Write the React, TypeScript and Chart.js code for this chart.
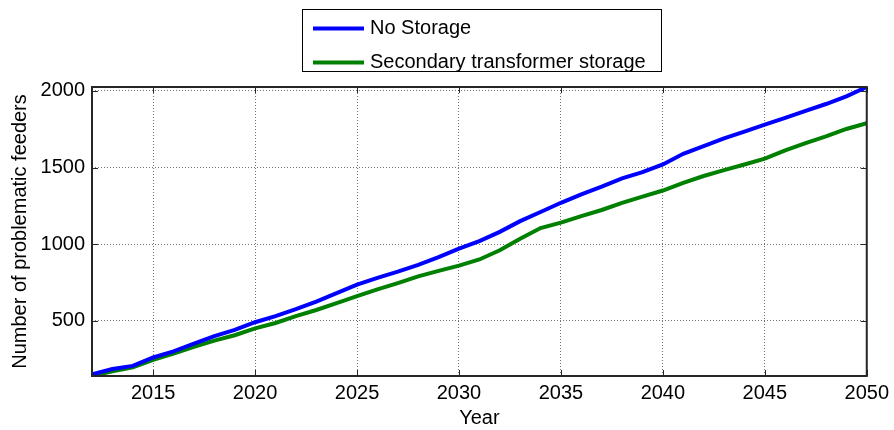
import React, { useEffect, useRef } from "react";
import { Chart, registerables } from "chart.js";

Chart.register(...registerables);

const years = [
  2012, 2013, 2014, 2015, 2016, 2017, 2018, 2019, 2020, 2021,
  2022, 2023, 2024, 2025, 2026, 2027, 2028, 2029, 2030, 2031,
  2032, 2033, 2034, 2035, 2036, 2037, 2038, 2039, 2040, 2041,
  2042, 2043, 2044, 2045, 2046, 2047, 2048, 2049, 2050,
];

const noStorage = [
  150, 185, 205, 260, 300, 350, 400, 440, 490, 530,
  575, 625, 680, 735, 780, 820, 865, 915, 970, 1020,
  1080, 1150, 1210, 1270, 1325, 1375, 1430, 1470, 1520, 1590,
  1640, 1690, 1735, 1780, 1825, 1870, 1915, 1965, 2026,
];

const secondaryStorage = [
  139, 170, 195, 245, 285, 330, 370, 405, 450, 485,
  530, 570, 615, 660, 705, 745, 790, 825, 860, 900,
  960, 1035, 1105, 1140, 1183, 1223, 1270, 1310, 1350, 1400,
  1445, 1483, 1520, 1558, 1612, 1660, 1704, 1752, 1790,
];

const seriesLabels = ["No Storage", "Secondary transformer storage"];
const seriesColors = ["#0000ff", "#008000"];

const xTickValues = [2015, 2020, 2025, 2030, 2035, 2040, 2045, 2050];
const yTickValues = [500, 1000, 1500, 2000];

const xMin = 2012;
const xMax = 2050;
const yMin = 139;
const yMax = 2026;

const FONT = "'Liberation Sans', Arial, Helvetica, sans-serif";

const boxPlugin = {
  id: "matlabBox",
  afterDraw(chart: any) {
    const { ctx, chartArea } = chart;
    const { left, right, top, bottom } = chartArea;
    const xs = chart.scales.x;
    const ys = chart.scales.y;
    ctx.save();
    // tick marks inside
    ctx.strokeStyle = "#262626";
    ctx.lineWidth = 1;
    const tl = 6;
    ctx.beginPath();
    for (const v of xTickValues) {
      const px = Math.round(xs.getPixelForValue(v)) + 0.5;
      ctx.moveTo(px, bottom);
      ctx.lineTo(px, bottom - tl);
      ctx.moveTo(px, top);
      ctx.lineTo(px, top + tl);
    }
    for (const v of yTickValues) {
      const py = Math.round(ys.getPixelForValue(v)) + 0.5;
      ctx.moveTo(left, py);
      ctx.lineTo(left + tl, py);
      ctx.moveTo(right, py);
      ctx.lineTo(right - tl, py);
    }
    ctx.stroke();
    // box
    ctx.lineWidth = 2;
    ctx.strokeStyle = "#262626";
    ctx.strokeRect(left, top, right - left, bottom - top);

    // legend
    const lx = 302.5;
    const ly = 9.5;
    const lw = 359;
    const lh = 62;
    ctx.fillStyle = "#ffffff";
    ctx.fillRect(lx, ly, lw, lh);
    ctx.lineWidth = 1;
    ctx.strokeStyle = "#000000";
    ctx.strokeRect(lx, ly, lw, lh);
    const rows = [28.5, 62.5];
    chart.data.datasets.forEach((ds: any, i: number) => {
      const y = rows[i];
      ctx.strokeStyle = ds.borderColor;
      ctx.lineWidth = 4;
      ctx.beginPath();
      ctx.moveTo(313, y);
      ctx.lineTo(364, y);
      ctx.stroke();
      ctx.fillStyle = "#000000";
      ctx.font = `20px ${FONT}`;
      ctx.textBaseline = "middle";
      ctx.textAlign = "left";
      ctx.fillText(ds.label, 370, y);
    });
    ctx.restore();
  },
};

export default function App() {
  const canvasRef = useRef<HTMLCanvasElement | null>(null);

  useEffect(() => {
    const canvas = canvasRef.current;
    if (!canvas) return;
    const datasets = [noStorage, secondaryStorage].map((vals, i) => ({
      label: seriesLabels[i],
      data: years.map((yr, j) => ({ x: yr, y: vals[j] })),
      borderColor: seriesColors[i],
      backgroundColor: seriesColors[i],
      borderWidth: 4,
      pointRadius: 0,
      tension: 0,
      fill: false,
    }));

    const chart = new Chart(canvas, {
      type: "line",
      data: { datasets },
      options: {
        animation: false,
        responsive: false,
        maintainAspectRatio: false,
        layout: { padding: { left: 0, right: 27, top: 87, bottom: 0 } },
        plugins: {
          legend: { display: false },
          tooltip: { enabled: false },
        },
        scales: {
          x: {
            type: "linear",
            min: xMin,
            max: xMax,
            afterBuildTicks: (s: any) => {
              s.ticks = xTickValues.map((v) => ({ value: v }));
            },
            afterFit: (s: any) => {
              s.height = 54;
            },
            grid: { color: "rgba(0,0,0,0.55)", lineWidth: 1, drawTicks: false },
            border: { display: false, dash: [1, 2] },
            ticks: {
              color: "#000",
              font: { family: FONT, size: 20 },
              padding: 5,
              maxRotation: 0,
              autoSkip: false,
              callback: (v: any) => String(v),
            },
            title: {
              display: true,
              text: "Year",
              color: "#000",
              font: { family: FONT, size: 20 },
              padding: { top: 0, bottom: 0 },
            },
          },
          y: {
            type: "linear",
            min: yMin,
            max: yMax,
            afterBuildTicks: (s: any) => {
              s.ticks = yTickValues.map((v) => ({ value: v }));
            },
            afterFit: (s: any) => {
              s.width = 92;
            },
            grid: { color: "rgba(0,0,0,0.55)", lineWidth: 1, drawTicks: false },
            border: { display: false, dash: [1, 2] },
            ticks: {
              color: "#000",
              font: { family: FONT, size: 20 },
              padding: 7,
              autoSkip: false,
              callback: (v: any) => String(v),
            },
            title: {
              display: true,
              text: "Number of problematic feeders",
              color: "#000",
              font: { family: FONT, size: 20 },
              padding: { top: 8, bottom: 0 },
            },
          },
        },
      },
      plugins: [boxPlugin],
    });
    return () => chart.destroy();
  }, []);

  return (
    <div
      style={{
        position: "fixed",
        left: 0,
        top: 0,
        width: 894,
        height: 430,
        background: "#ffffff",
      }}
    >
      <canvas ref={canvasRef} width={894} height={430} style={{ width: 894, height: 430, display: "block" }} />
    </div>
  );
}
